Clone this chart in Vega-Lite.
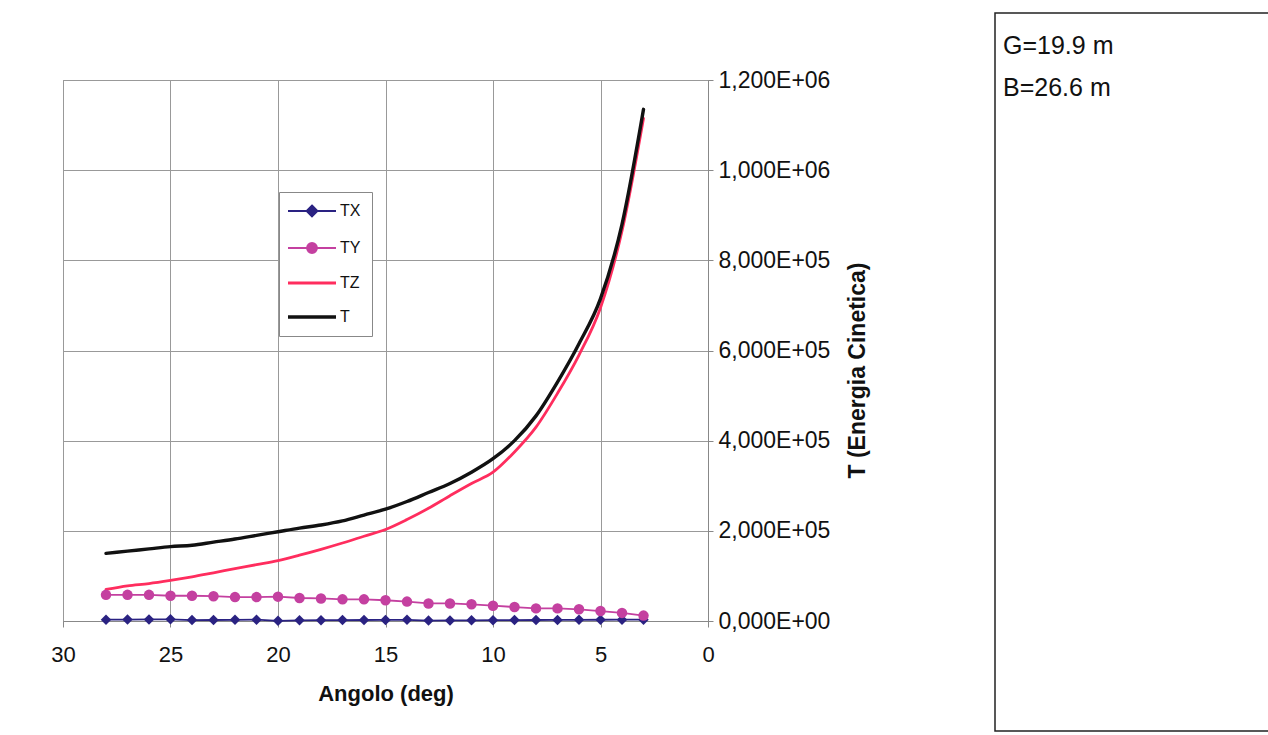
{
  "$schema": "https://vega.github.io/schema/vega-lite/v6.json",
  "padding": {"left": 50, "top": 12, "right": 0, "bottom": 0},
  "background": "white",
  "config": {
    "font": "Liberation Sans",
    "axis": {"labelFont": "Liberation Sans", "titleFont": "Liberation Sans"},
    "legend": {"labelFont": "Liberation Sans"}
  },
  "spacing": 123,
  "hconcat": [
    {
      "spacing": 0,
      "vconcat": [
        {
          "width": 645,
          "height": 55,
          "view": {"stroke": null},
          "data": {"values": []},
          "mark": {"type": "point", "opacity": 0},
          "encoding": {}
        },
        {
          "width": 645,
          "height": 541,
          "view": {"stroke": "#888888", "strokeWidth": 1},
          "data": {
            "values": [
              {"a":28,"s":"TX","v":3000},{"a":27,"s":"TX","v":3200},{"a":26,"s":"TX","v":3500},{"a":25,"s":"TX","v":3800},{"a":24,"s":"TX","v":2000},{"a":23,"s":"TX","v":2200},{"a":22,"s":"TX","v":2600},{"a":21,"s":"TX","v":3000},{"a":20,"s":"TX","v":500},{"a":19,"s":"TX","v":1500},{"a":18,"s":"TX","v":1800},{"a":17,"s":"TX","v":2000},{"a":16,"s":"TX","v":2200},{"a":15,"s":"TX","v":2400},{"a":14,"s":"TX","v":2600},{"a":13,"s":"TX","v":1000},{"a":12,"s":"TX","v":1200},{"a":11,"s":"TX","v":1500},{"a":10,"s":"TX","v":1800},{"a":9,"s":"TX","v":2000},{"a":8,"s":"TX","v":2200},{"a":7,"s":"TX","v":2400},{"a":6,"s":"TX","v":2600},{"a":5,"s":"TX","v":2800},{"a":4,"s":"TX","v":3000},{"a":3,"s":"TX","v":3000},
              {"a":28,"s":"TY","v":58000},{"a":27,"s":"TY","v":58000},{"a":26,"s":"TY","v":58000},{"a":25,"s":"TY","v":56000},{"a":24,"s":"TY","v":56000},{"a":23,"s":"TY","v":55000},{"a":22,"s":"TY","v":53000},{"a":21,"s":"TY","v":53000},{"a":20,"s":"TY","v":54000},{"a":19,"s":"TY","v":51000},{"a":18,"s":"TY","v":50000},{"a":17,"s":"TY","v":48000},{"a":16,"s":"TY","v":48000},{"a":15,"s":"TY","v":46000},{"a":14,"s":"TY","v":43000},{"a":13,"s":"TY","v":39000},{"a":12,"s":"TY","v":39000},{"a":11,"s":"TY","v":37000},{"a":10,"s":"TY","v":34000},{"a":9,"s":"TY","v":31000},{"a":8,"s":"TY","v":28000},{"a":7,"s":"TY","v":28000},{"a":6,"s":"TY","v":26000},{"a":5,"s":"TY","v":22000},{"a":4,"s":"TY","v":18000},{"a":3,"s":"TY","v":12000},
              {"a":28,"s":"TZ","v":70000},{"a":27,"s":"TZ","v":78000},{"a":26,"s":"TZ","v":83000},{"a":25,"s":"TZ","v":90000},{"a":24,"s":"TZ","v":98000},{"a":23,"s":"TZ","v":107000},{"a":22,"s":"TZ","v":116000},{"a":21,"s":"TZ","v":125000},{"a":20,"s":"TZ","v":134000},{"a":19,"s":"TZ","v":146000},{"a":18,"s":"TZ","v":159000},{"a":17,"s":"TZ","v":173000},{"a":16,"s":"TZ","v":188000},{"a":15,"s":"TZ","v":203000},{"a":14,"s":"TZ","v":225000},{"a":13,"s":"TZ","v":250000},{"a":12,"s":"TZ","v":278000},{"a":11,"s":"TZ","v":305000},{"a":10,"s":"TZ","v":330000},{"a":9,"s":"TZ","v":375000},{"a":8,"s":"TZ","v":430000},{"a":7,"s":"TZ","v":505000},{"a":6,"s":"TZ","v":590000},{"a":5,"s":"TZ","v":695000},{"a":4,"s":"TZ","v":865000},{"a":3,"s":"TZ","v":1115000},
              {"a":28,"s":"T","v":150000},{"a":27,"s":"T","v":155000},{"a":26,"s":"T","v":160000},{"a":25,"s":"T","v":165000},{"a":24,"s":"T","v":168000},{"a":23,"s":"T","v":175000},{"a":22,"s":"T","v":182000},{"a":21,"s":"T","v":190000},{"a":20,"s":"T","v":198000},{"a":19,"s":"T","v":206000},{"a":18,"s":"T","v":213000},{"a":17,"s":"T","v":222000},{"a":16,"s":"T","v":235000},{"a":15,"s":"T","v":248000},{"a":14,"s":"T","v":265000},{"a":13,"s":"T","v":285000},{"a":12,"s":"T","v":305000},{"a":11,"s":"T","v":330000},{"a":10,"s":"T","v":360000},{"a":9,"s":"T","v":400000},{"a":8,"s":"T","v":455000},{"a":7,"s":"T","v":530000},{"a":6,"s":"T","v":615000},{"a":5,"s":"T","v":715000},{"a":4,"s":"T","v":880000},{"a":3,"s":"T","v":1135000}
            ]
          },
          "encoding": {
            "x": {
              "field": "a", "type": "quantitative",
              "scale": {"domain": [0, 30], "reverse": true, "nice": false, "zero": false},
              "axis": {
                "values": [0, 5, 10, 15, 20, 25, 30],
                "labelFlush": false,
                "title": "Angolo (deg)",
                "titleFontSize": 22, "titleFontWeight": "bold", "titlePadding": 18, "titleColor": "#111",
                "labelFontSize": 22, "labelColor": "#111", "labelPadding": 17,
                "tickSize": 6, "tickColor": "#888888", "domainColor": "#888888",
                "gridColor": "#999999", "gridWidth": 1, "grid": true
              }
            },
            "y": {
              "field": "v", "type": "quantitative",
              "scale": {"domain": [0, 1200000], "nice": false},
              "axis": {
                "orient": "right",
                "values": [0, 200000, 400000, 600000, 800000, 1000000, 1200000],
                "labelExpr": "datum.value == 0 ? '0,000E+00' : replace(format(datum.value / pow(10, floor(log(datum.value) / LN10 + 1e-9)), '.3f'), '.', ',') + 'E+' + format(floor(log(datum.value) / LN10 + 1e-9), '02d')",
                "title": "T (Energia Cinetica)",
                "titleAngle": 270,
                "titleY": 290,
                "titleFontSize": 23, "titleFontWeight": "bold", "titlePadding": 40, "titleColor": "#111",
                "labelFontSize": 23, "labelColor": "#111", "labelPadding": 5,
                "tickSize": 5, "tickColor": "#888888", "domainColor": "#888888",
                "gridColor": "#999999", "gridWidth": 1, "grid": true
              }
            },
            "color": {
              "field": "s", "type": "nominal",
              "scale": {"domain": ["TX", "TY", "TZ", "T"], "range": ["#2A2282", "#C440A0", "#FF2D5E", "#111111"]},
              "legend": {
                "orient": "none", "legendX": 216, "legendY": 179,
                "title": null,
                "symbolSize": 400, "labelOffset": 34, "rowPadding": 18,
                "symbolStrokeWidth": 2,
                "padding": 11, "strokeColor": "#888888", "fillColor": "white",
                "labelFontSize": 16, "labelColor": "#111",
                "encode": {
                  "symbols": {
                    "update": {
                      "shape": {"signal": "datum.value === 'TX' ? 'M-1,0L3.8,0M1.4,-0.55L1.95,0L1.4,0.55L0.85,0Z' : datum.value === 'TY' ? 'M-1,0L3.8,0M0.9,0A0.5,0.5 0 1,0 1.9,0A0.5,0.5 0 1,0 0.9,0Z' : 'M-1,0L3.8,0'"},
                      "fill": {"scale": "color", "field": "value"},
                      "stroke": {"scale": "color", "field": "value"},
                      "strokeWidth": {"signal": "datum.value === 'T' ? 3.5 : datum.value === 'TZ' ? 3 : 1.8"},
                      "opacity": {"value": 1},
                      "fillOpacity": {"value": 1},
                      "strokeOpacity": {"value": 1}
                    }
                  }
                }
              }
            }
          },
          "layer": [
            {
              "transform": [{"filter": "datum.s === 'TX' || datum.s === 'TY'"}],
              "mark": {"type": "line", "strokeWidth": 1.8, "strokeJoin": "round"}
            },
            {
              "transform": [{"filter": "datum.s === 'TZ'"}],
              "mark": {"type": "line", "strokeWidth": 2.8, "strokeCap": "round", "strokeJoin": "round", "interpolate": "monotone"}
            },
            {
              "transform": [{"filter": "datum.s === 'T'"}],
              "mark": {"type": "line", "strokeWidth": 3.4, "strokeCap": "round", "strokeJoin": "round", "interpolate": "monotone"}
            },
            {
              "transform": [{"filter": "datum.s === 'TX' || datum.s === 'TY'"}],
              "mark": {"type": "point", "filled": true, "opacity": 1, "size": 110},
              "encoding": {
                "shape": {
                  "field": "s", "type": "nominal",
                  "scale": {"domain": ["TX", "TY"], "range": ["diamond", "circle"]},
                  "legend": null
                }
              }
            }
          ]
        }
      ]
    },
    {
      "width": 280,
      "height": 718,
      "view": {"stroke": "#222222", "strokeWidth": 1.5},
      "data": {"values": [{"label": "G=19.9 m"}, {"label": "B=26.6 m"}]},
      "mark": {"type": "text", "align": "left", "baseline": "middle", "fontSize": 25, "font": "Liberation Sans", "color": "#111"},
      "encoding": {
        "x": {"value": 8},
        "y": {"field": "label", "type": "nominal", "sort": null, "axis": null, "scale": {"type": "point", "range": [33, 75], "padding": 0}},
        "text": {"field": "label"}
      }
    }
  ]
}
